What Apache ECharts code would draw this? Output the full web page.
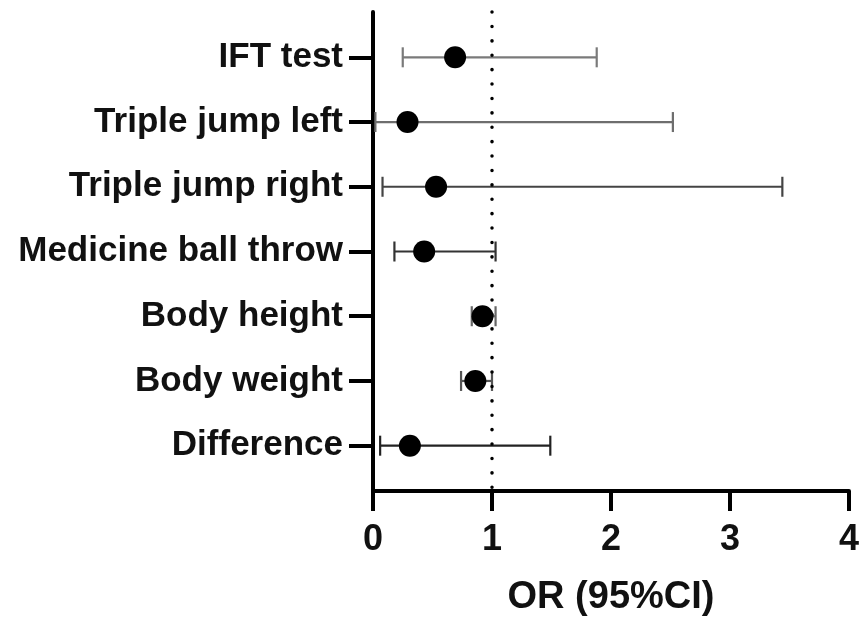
<!DOCTYPE html>
<html>
<head>
<meta charset="utf-8">
<script src="https://cdn.jsdelivr.net/npm/echarts@6/dist/echarts.min.js"></script>
<style>html,body{margin:0;padding:0;background:#fff}#c{width:862px;height:624px}</style>
</head>
<body>
<div id="c"></div>
<script>
// Data
const categories = ['IFT test', 'Triple jump left', 'Triple jump right', 'Medicine ball throw', 'Body height', 'Body weight', 'Difference'];
const orValues = [0.69, 0.29, 0.53, 0.43, 0.92, 0.86, 0.31];
const ciLow = [0.25, 0.02, 0.08, 0.18, 0.83, 0.74, 0.06];
const ciHigh = [1.88, 2.52, 3.44, 1.03, 1.03, 1.00, 1.49];
const xTicks = [0, 1, 2, 3, 4];
const refValue = 1;

// Styles (separate from data)
const whiskerColors = ['#7a7a7a', '#6e6e6e', '#444444', '#333333', '#666666', '#555555', '#222222'];

const rowPos = categories.map((c, i) => i + 1);
const pointData = orValues.map((v, i) => [v, rowPos[i]]);
const ciData = ciLow.map((lo, i) => [rowPos[i], lo, ciHigh[i]]);

const font = 'Liberation Sans, Arial, sans-serif';
const chart = echarts.init(document.getElementById('c'), null, {renderer: 'canvas'});
chart.setOption({
  animation: false,
  backgroundColor: '#fff',
  grid: {left: 373, right: 12, top: 12, bottom: 133},
  xAxis: {
    type: 'value', min: xTicks[0], max: xTicks[xTicks.length - 1], interval: 1,
    name: 'OR (95%CI)', nameLocation: 'middle', nameGap: 88,
    nameTextStyle: {fontFamily: font, fontWeight: 'bold', fontSize: 38, color: '#111'},
    axisLine: {show: true, lineStyle: {color: '#000', width: 4}},
    axisTick: {show: true, length: 20, lineStyle: {color: '#000', width: 4}},
    axisLabel: {fontFamily: font, fontWeight: 'bold', fontSize: 36, color: '#111', margin: 31},
    splitLine: {show: false}
  },
  yAxis: {
    type: 'value', min: 0.3, max: 7.7, inverse: true,
    axisLine: {show: true, lineStyle: {color: '#000', width: 4}},
    axisTick: {show: true, length: 24, lineStyle: {color: '#000', width: 4}, customValues: rowPos},
    axisLabel: {
      fontFamily: font, fontWeight: 'bold', fontSize: 35, color: '#111', margin: 30,
      customValues: rowPos,
      formatter: v => categories[Math.round(v) - 1] || ''
    },
    splitLine: {show: false}
  },
  series: [
    {
      type: 'custom',
      data: ciData,
      encode: {x: [1, 2], y: 0},
      z: 2,
      renderItem: function (params, api) {
        const y = api.value(0), lo = api.value(1), hi = api.value(2);
        const p1 = api.coord([lo, y]);
        const p2 = api.coord([hi, y]);
        const h = 10;
        const style = {stroke: whiskerColors[params.dataIndex], lineWidth: 2.2};
        return {
          type: 'group',
          children: [
            {type: 'line', shape: {x1: p1[0], y1: p1[1], x2: p2[0], y2: p2[1]}, style: style},
            {type: 'line', shape: {x1: p1[0], y1: p1[1] - h, x2: p1[0], y2: p1[1] + h}, style: style},
            {type: 'line', shape: {x1: p2[0], y1: p2[1] - h, x2: p2[0], y2: p2[1] + h}, style: style}
          ]
        };
      }
    },
    {
      type: 'scatter',
      data: pointData,
      symbol: 'circle',
      symbolSize: 22,
      itemStyle: {color: '#000', opacity: 1},
      z: 3,
      markLine: {
        silent: true,
        symbol: 'none',
        label: {show: false},
        lineStyle: {color: '#000', width: 3.5, type: [0.1, 14.3], cap: 'round', opacity: 1},
        data: [{xAxis: refValue}]
      }
    }
  ]
});
</script>
</body>
</html>
